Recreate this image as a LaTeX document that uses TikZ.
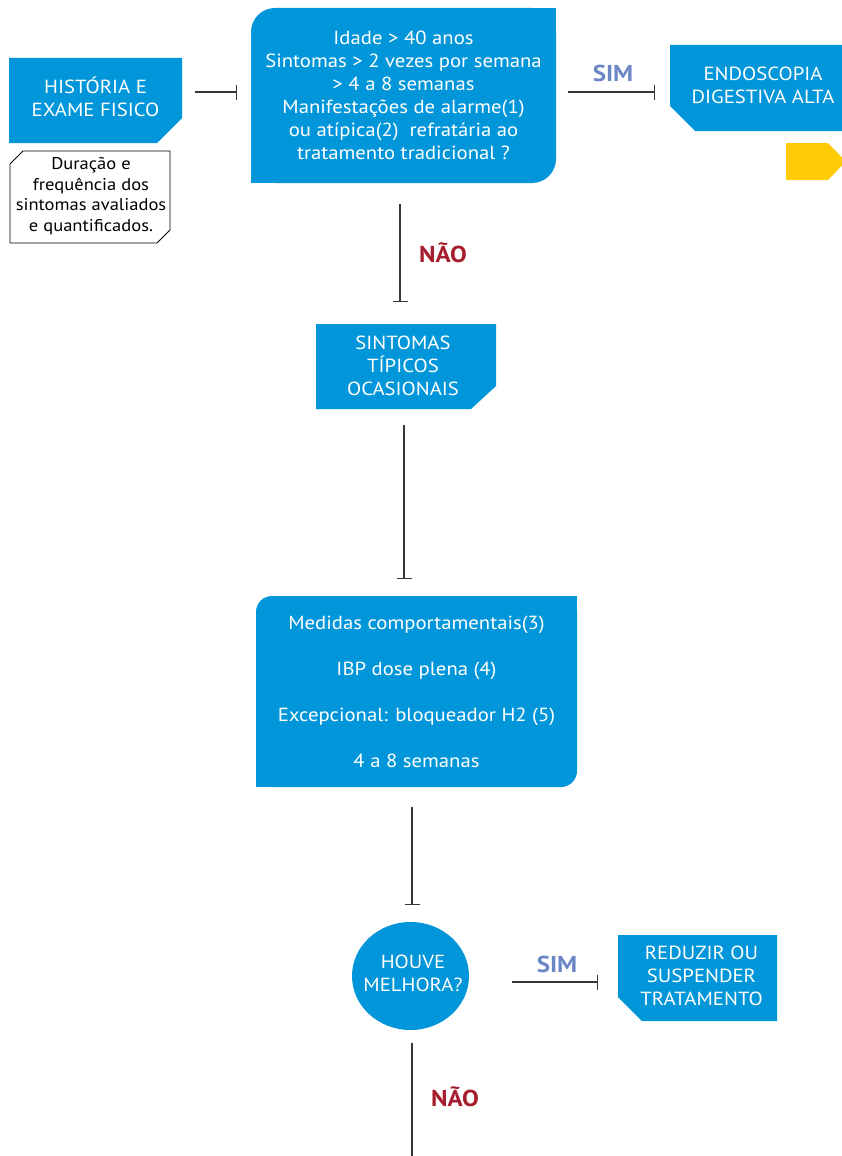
\documentclass[tikz,border=0pt]{standalone}
\usepackage{fontspec}
\setmainfont{PT Sans}[FakeStretch=1.09]
\usetikzlibrary{arrows.meta,shapes.geometric}
\definecolor{mblue}{RGB}{0,150,217}
\definecolor{simc}{RGB}{107,134,196}
\definecolor{naoc}{RGB}{166,30,45}
\definecolor{linec}{RGB}{55,55,55}
\definecolor{myellow}{RGB}{255,203,5}
\begin{document}
\begin{tikzpicture}[x=1pt,y=-1pt,
  txt/.style={text=white, align=center, inner sep=0pt, font=\fontsize{19}{23}\selectfont},
  notetxt/.style={text=black, align=center, inner sep=0pt, font=\fontsize{17}{20.5}\selectfont},
  medtxt/.style={text=white, align=center, inner sep=0pt, font=\fontsize{19}{46}\selectfont},
  conn/.style={draw=linec, line width=1.3pt, -{Bar[width=15pt,line width=1.3pt]}},
  plainline/.style={draw=linec, line width=1.3pt},
  simlbl/.style={text=simc, inner sep=0pt, font=\bfseries\fontsize{23}{27}\selectfont},
  naolbl/.style={text=naoc, inner sep=0pt, font=\bfseries\fontsize{23}{27}\selectfont}]
\useasboundingbox (0,0) rectangle (842,1156);
\clip (0,0) rectangle (842,1156);

% shapes
\fill[mblue] (9,58) -- (182,58) -- (182,118) -- (157,143) -- (9,143) -- cycle;
\draw[black, line width=0.8pt, fill=white] (23,151) -- (170,151) -- (170,230) -- (157,243) -- (10,243) -- (10,164) -- cycle;
\fill[mblue, rounded corners=24pt] (251,8) rectangle (556,183);
\fill[mblue] (480,8) rectangle (556,60);
\fill[mblue] (251,120) rectangle (320,183);
\fill[mblue] (670,45) -- (856,45) -- (856,131) -- (695,131) -- (670,106) -- cycle;
\fill[myellow] (786,143) -- (828,143) -- (846,161.5) -- (828,180) -- (786,180) -- cycle;
\fill[mblue] (316,324) -- (496,324) -- (496,386) -- (471,409) -- (316,409) -- cycle;
\fill[mblue, rounded corners=16pt] (256,596) rectangle (577,787);
\fill[mblue] (500,596) rectangle (577,650);
\fill[mblue] (256,730) rectangle (320,787);
\fill[mblue] (618,935) -- (777,935) -- (777,1021) -- (642,1021) -- (618,997) -- cycle;

% nodes
\node[txt, minimum width=173pt] (hist) at (95.5,96.5) {HISTÓRIA E\\EXAME FISICO};
\node[notetxt] (note) at (91,196) {Duração e\\frequência dos\\sintomas avaliados\\e quantificados.};
\node[txt, minimum width=305pt, minimum height=175pt] (big) at (403.5,95.5)
  {Idade > 40 anos\\Sintomas > 2 vezes por semana\\> 4 a 8 semanas\\Manifestações de alarme(1)\\ou atípica(2)~ refratária ao\\tratamento tradicional ?};
\node[txt, minimum width=186pt] (endo) at (763,85.5) {ENDOSCOPIA\\DIGESTIVA ALTA};
\node[txt, minimum width=180pt, minimum height=85pt] (sint) at (403,366) {SINTOMAS\\TÍPICOS\\OCASIONAIS};
\node[medtxt, minimum width=321pt, minimum height=191pt] (med) at (416.5,691.5)
  {Medidas comportamentais(3)\\IBP dose plena (4)\\Excepcional: bloqueador H2 (5)\\4 a 8 semanas};
\node[ellipse, fill=mblue, inner sep=0pt, minimum width=117pt, minimum height=108pt] (circ) at (410.5,976) {};
\node[txt] (circtxt) at (413,973.5) {HOUVE\\MELHORA?};
\node[txt, minimum width=159pt] (red) at (701.5,976) {REDUZIR OU\\SUSPENDER\\TRATAMENTO};
\coordinate (downend) at (412,1170);

% labels
\node[simlbl] (sim1) at (613,73) {SIM};
\node[naolbl] (nao1) at (443,253) {NÃO};
\node[simlbl] (sim2) at (557,964) {SIM};
\node[naolbl] (nao2) at (455,1097) {NÃO};

% connectors
\draw[conn, shorten <=13pt, shorten >=14pt] ([yshift=4.5pt]hist.east) -- ([yshift=4.5pt]hist.east -| big.west);
\draw[conn, shorten <=12pt, shorten >=15pt] ([yshift=3.5pt]big.east) -- ([yshift=3.5pt]big.east -| endo.west);
\draw[conn, shorten <=21pt, shorten >=21.5pt] ([xshift=-3.5pt]big.south) -- ([xshift=-3.5pt]big.south |- sint.north);
\draw[conn, shorten <=16.5pt, shorten >=17pt] ([xshift=1pt]sint.south) -- ([xshift=1pt]sint.south |- med.north);
\draw[conn, shorten <=20pt, shorten >=17pt] ([xshift=-4.5pt]med.south) -- ([xshift=-4.5pt]med.south |- circ.north);
\draw[conn, shorten <=43pt, shorten >=24pt] ([yshift=-6pt]circ.east) -- ([yshift=-6pt]circ.east -| red.west);
\draw[plainline, shorten <=13pt] ([xshift=1.5pt]circ.south) -- (downend);
\end{tikzpicture}
\end{document}
